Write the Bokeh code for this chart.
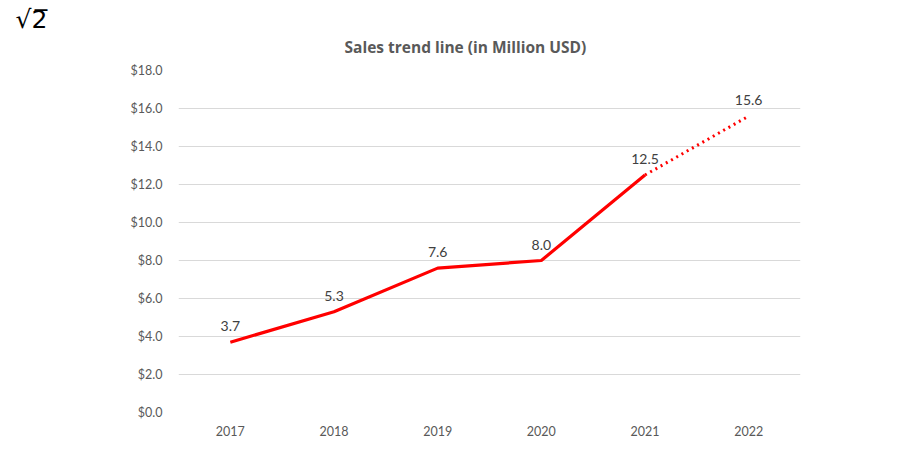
from bokeh.plotting import figure
from bokeh.models import (ColumnDataSource, FactorRange, Range1d, FixedTicker,
                          PrintfTickFormatter, LabelSet, Title)
from bokeh.core.properties import value
from bokeh.embed import file_html
from bokeh.resources import INLINE

years = ["2017", "2018", "2019", "2020", "2021", "2022"]
sales = [3.7, 5.3, 7.6, 8.0, 12.5, 15.6]
y_ticks = [0, 2, 4, 6, 8, 10, 12, 14, 16, 18]
title_text = "Sales trend line (in Million USD)"
logo_text = "\u221a2\u0305"

FONT = "Lato"
TEXT_GRAY = "#595959"

p = figure(width=904, height=462, x_range=FactorRange(*years, range_padding=0),
           y_range=Range1d(0, 18), output_backend="svg", toolbar_location=None,
           min_border_left=178, min_border_right=104, min_border_top=70,
           min_border_bottom=50)
p.outline_line_color = None
p.background_fill_color = "white"
p.border_fill_color = "white"

# solid part (2017-2021) and dotted forecast (2021-2022)
solid = ColumnDataSource(dict(x=years[:5], y=sales[:5]))
dotted = ColumnDataSource(dict(x=years[4:], y=sales[4:]))
p.line("x", "y", source=solid, line_color="#ff0000", line_width=3.2)
p.line("x", "y", source=dotted, line_color="#ff0000", line_width=3,
       line_dash="2 4")

labels_src = ColumnDataSource(dict(x=years, y=sales, t=[f"{v:.1f}" for v in sales]))
p.add_layout(LabelSet(x="x", y="y", text="t", source=labels_src, y_offset=11,
                      text_align="center", text_baseline="bottom",
                      text_font=value(FONT), text_font_size=value("14px"),
                      text_color=value("#404040")))

p.yaxis.ticker = FixedTicker(ticks=y_ticks)
p.yaxis.formatter = PrintfTickFormatter(format="$%.1f")
for ax in (p.xaxis, p.yaxis):
    ax.axis_line_color = None
    ax.major_tick_line_color = None
    ax.minor_tick_line_color = None
    ax.major_label_text_font = FONT
    ax.major_label_text_font_size = "12.5px"
    ax.major_label_text_color = TEXT_GRAY
p.yaxis.major_label_standoff = 10
p.xaxis.major_label_standoff = 7
p.xgrid.grid_line_color = None
p.ygrid.grid_line_color = "#d9d9d9"
p.ygrid.grid_line_width = 1

p.add_layout(Title(text=title_text, align="left", offset=166,
                   text_font="Open Sans", text_font_style="bold",
                   text_font_size="15.5px", text_color=TEXT_GRAY,
                   standoff=25), "above")
p.add_layout(Title(text=logo_text, align="left", offset=-163,
                   text_font="DejaVu Sans", text_font_style="normal",
                   text_font_size="25px", text_color="black",
                   standoff=-24), "above")

open("out.html", "w").write(file_html(p, INLINE))
